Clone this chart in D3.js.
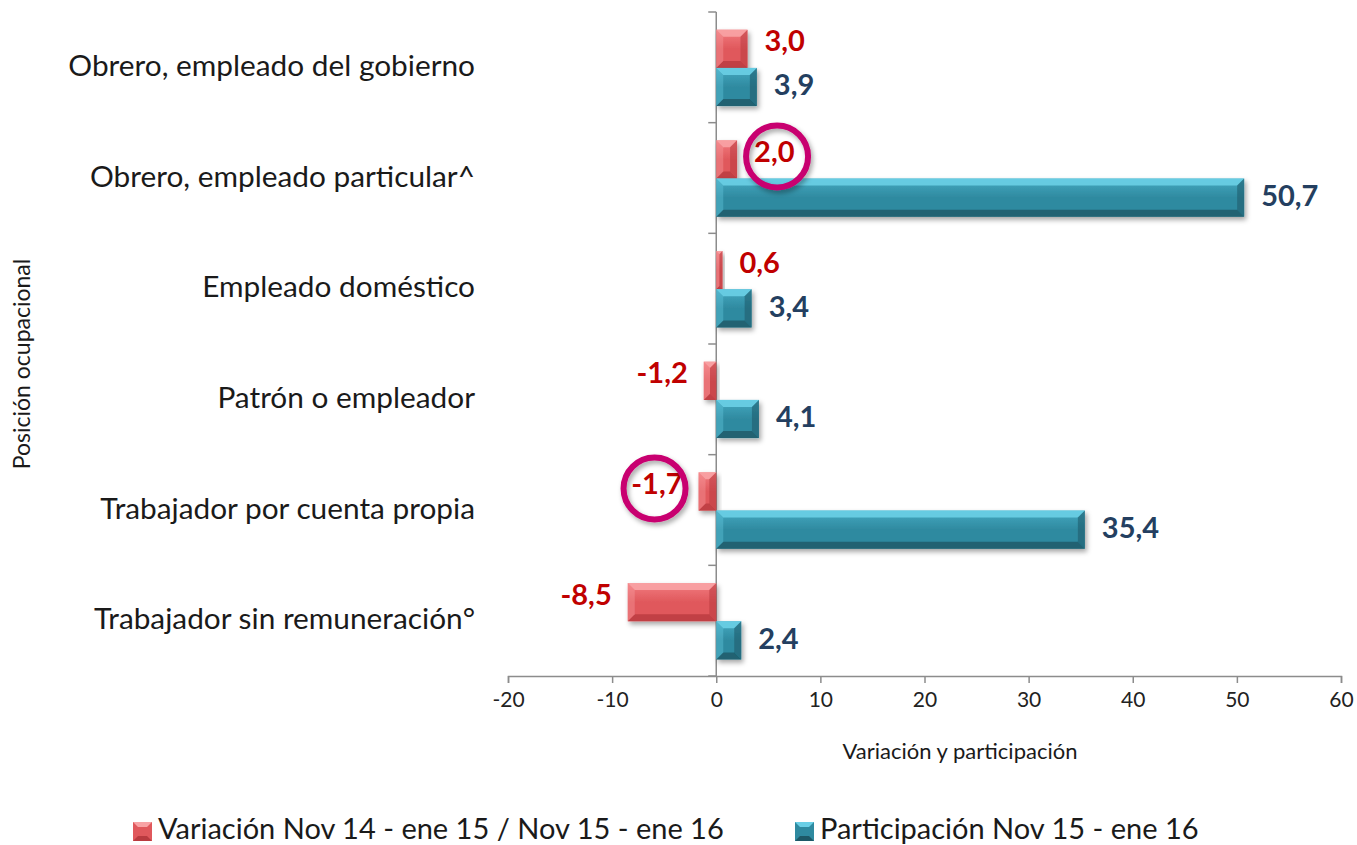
<!DOCTYPE html>
<html>
<head>
<meta charset="utf-8">
<script src="https://cdn.jsdelivr.net/npm/d3@7"></script>
<style>
  body { margin: 0; background: #fff; }
  text { font-family: Lato, "Open Sans", sans-serif; }
</style>
</head>
<body>
<div id="chart"></div>
<script>
// data
const categorias = ["Obrero, empleado del gobierno", "Obrero, empleado particular^", "Empleado doméstico",
  "Patrón o empleador", "Trabajador por cuenta propia", "Trabajador sin remuneración°"];
const variacion = [3.0, 2.0, 0.6, -1.2, -1.7, -8.5];
const participacion = [3.9, 50.7, 3.4, 4.1, 35.4, 2.4];
const series = ["Variación Nov 14 - ene 15 / Nov 15 - ene 16", "Participación Nov 15 - ene 16"];
const xTicks = [-20, -10, 0, 10, 20, 30, 40, 50, 60];
const resaltados = [1, 4]; // circled labels (variacion)

const W = 1357, H = 845;
const margin = {top: 12, right: 16, bottom: 169, left: 508};
const width = W - margin.left - margin.right,
  height = H - margin.top - margin.bottom;

const svg = d3.select("#chart").append("svg")
  .attr("width", W).attr("height", H);

const defs = svg.append("defs");
const sh = defs.append("filter").attr("id", "shadow").attr("x", "-20%").attr("y", "-30%").attr("width", "150%").attr("height", "170%");
sh.append("feDropShadow").attr("dx", 2).attr("dy", 3).attr("stdDeviation", 2.5).attr("flood-color", "#000").attr("flood-opacity", 0.35);

const colors = [
  {main: "#E0585C", light: "#F8A3A5", dark: "#B93A3F", edge: "#F27C80"},
  {main: "#2F8AA0", light: "#6ACFE6", dark: "#1D5867", edge: "#45A9C1"}
];
colors.forEach((c, i) => {
  const g = defs.append("linearGradient").attr("id", "grad" + i).attr("x1", 0).attr("y1", 0).attr("x2", 0).attr("y2", 1);
  g.append("stop").attr("offset", "0%").attr("stop-color", c.edge);
  g.append("stop").attr("offset", "50%").attr("stop-color", c.main);
  g.append("stop").attr("offset", "100%").attr("stop-color", c.main);
});

const g = svg.append("g").attr("transform", `translate(${margin.left},${margin.top})`);

const x = d3.scaleLinear().domain([-20, 60]).range([0, width]);
const y = d3.scaleBand().domain(categorias).range([0, height]).paddingInner(0).paddingOuter(0);
const sub = d3.scaleBand().domain([0, 1]).range([y.bandwidth() * 0.16, y.bandwidth() * 0.85]).padding(0);

// x axis
const xAxis = g.append("g").attr("transform", `translate(0,${height})`)
  .call(d3.axisBottom(x).tickValues(xTicks).tickSize(7).tickFormat(d3.format("d")));
xAxis.select(".domain").attr("stroke", "#8c8c8c").attr("stroke-width", 1.5);
xAxis.selectAll(".tick line").attr("stroke", "#8c8c8c").attr("stroke-width", 1.5);
xAxis.selectAll(".tick text").attr("font-size", 21).attr("fill", "#222").attr("dy", "1.0em")
  .text(d => d < 0 ? "-" + Math.abs(d) : d);

// y axis at zero with ticks at band boundaries
const yAxisG = g.append("g").attr("transform", `translate(${x(0)},0)`);
yAxisG.append("line").attr("y1", 0).attr("y2", height).attr("stroke", "#8c8c8c").attr("stroke-width", 1.5);
const bounds = d3.range(categorias.length + 1).map(i => i * y.bandwidth());
yAxisG.selectAll(".yt").data(bounds).enter().append("line")
  .attr("x1", -8).attr("x2", 0).attr("y1", d => d).attr("y2", d => d)
  .attr("stroke", "#8c8c8c").attr("stroke-width", 1.5);

// category labels
g.selectAll(".cat").data(categorias).enter().append("text")
  .attr("x", -33).attr("y", d => y(d) + y.bandwidth() / 2 + 1)
  .attr("text-anchor", "end").attr("dominant-baseline", "middle")
  .attr("font-size", 29.8).attr("fill", "#1a1a1a").text(d => d);

// bars
function drawBars(vals, si) {
  const c = colors[si];
  const bars = g.selectAll(".bar" + si).data(vals).enter().append("g")
    .attr("filter", "url(#shadow)");
  bars.each(function(v, i) {
    const el = d3.select(this);
    const x0 = x(Math.min(0, v)), x1 = x(Math.max(0, v));
    const y0 = y(categorias[i]) + sub(si), h = sub.bandwidth();
    const w = x1 - x0;
    const b = Math.min(7, w / 2, h / 2);
    el.append("rect").attr("x", x0).attr("y", y0).attr("width", w).attr("height", h)
      .attr("fill", `url(#grad${si})`);
    // bevels
    el.append("polygon").attr("points", [[x0, y0], [x1, y0], [x1 - b, y0 + b], [x0 + b, y0 + b]].join(" "))
      .attr("fill", c.light).attr("opacity", 0.9);
    el.append("polygon").attr("points", [[x0, y0 + h], [x1, y0 + h], [x1 - b, y0 + h - b], [x0 + b, y0 + h - b]].join(" "))
      .attr("fill", c.dark).attr("opacity", 0.8);
    el.append("polygon").attr("points", [[x1, y0], [x1, y0 + h], [x1 - b, y0 + h - b], [x1 - b, y0 + b]].join(" "))
      .attr("fill", c.dark).attr("opacity", 0.55);
    el.append("polygon").attr("points", [[x0, y0], [x0, y0 + h], [x0 + b, y0 + h - b], [x0 + b, y0 + b]].join(" "))
      .attr("fill", c.light).attr("opacity", 0.35);
  });
}
drawBars(variacion, 0);
drawBars(participacion, 1);

// value labels
const fmt = v => (v < 0 ? "-" : "") + d3.format(".1f")(Math.abs(v)).replace(".", ",");
const labelColors = ["#C00000", "#243F60"];
[variacion, participacion].forEach((vals, si) => {
  g.selectAll(".lab" + si).data(vals).enter().append("text")
    .attr("x", v => v >= 0 ? x(v) + 17 : x(v) - 16)
    .attr("y", (v, i) => y(categorias[i]) + sub(si) + sub.bandwidth() / 2 + (si === 0 ? -5 : 1))
    .attr("text-anchor", v => v >= 0 ? "start" : "end")
    .attr("dominant-baseline", "middle")
    .attr("font-size", 29).attr("font-weight", "bold").attr("fill", labelColors[si])
    .text(fmt);
});

// highlight circles
resaltados.forEach(i => {
  const v = variacion[i];
  const cx = v >= 0 ? x(v) + 40 : x(v) - 44;
  const cy = y(categorias[i]) + sub(0) + sub.bandwidth() / 2 - 3;
  g.append("circle").attr("cx", cx).attr("cy", cy).attr("r", 31)
    .attr("fill", "none").attr("stroke", "#C8036F").attr("stroke-width", 6)
    .attr("filter", "url(#shadow)");
});

// axis titles
svg.append("text").attr("x", 960).attr("y", 759)
  .attr("text-anchor", "middle").attr("font-size", 22).attr("fill", "#1a1a1a")
  .text("Variación y participación");
svg.append("text").attr("transform", `translate(30,${364}) rotate(-90)`)
  .attr("text-anchor", "middle").attr("font-size", 23).attr("fill", "#1a1a1a")
  .text("Posición ocupacional");

// legend
const legX = [133, 795];
series.forEach((s, i) => {
  const lg = svg.append("g").attr("transform", `translate(${legX[i]},822)`);
  const c = colors[i];
  lg.append("rect").attr("width", 19).attr("height", 19).attr("fill", c.main);
  lg.append("polygon").attr("points", "0,0 19,0 14,5 5,5").attr("fill", c.light);
  lg.append("polygon").attr("points", "0,19 19,19 14,14 5,14").attr("fill", c.dark);
  lg.append("text").attr("x", 25).attr("y", 10).attr("dominant-baseline", "middle")
    .attr("font-size", 29).attr("fill", "#1a1a1a").text(s);
});
</script>
</body>
</html>
